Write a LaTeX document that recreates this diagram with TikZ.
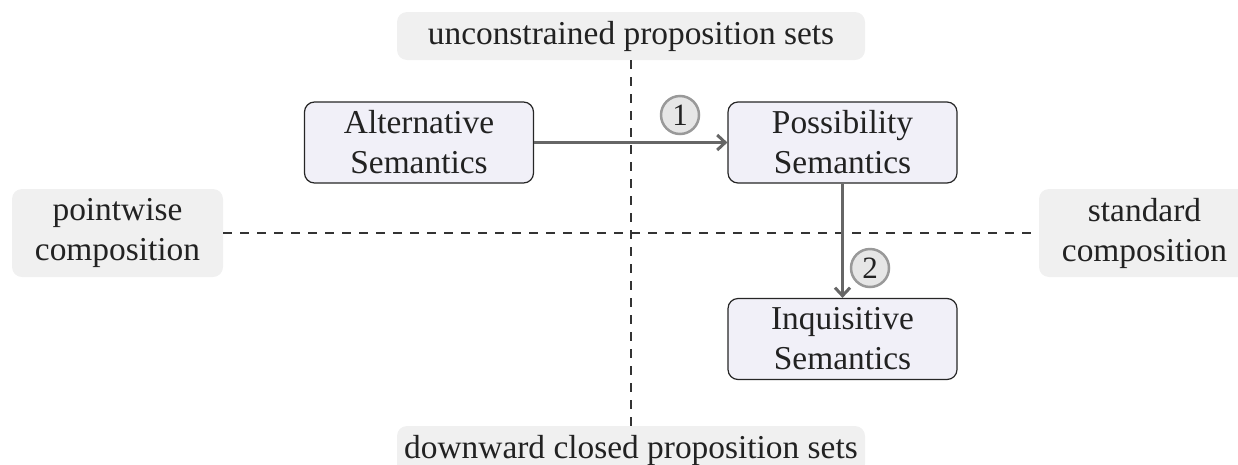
\documentclass[tikz,border=0pt]{standalone}
\usepackage{fontspec}
\setmainfont{Liberation Serif}
\usetikzlibrary{arrows.meta}
\definecolor{nodefill}{HTML}{F1F0F8}
\definecolor{labfill}{HTML}{F0F0F0}
\definecolor{arrowgray}{HTML}{666666}
\definecolor{circfill}{HTML}{E6E6E6}
\definecolor{circdraw}{HTML}{999999}
\definecolor{textdark}{HTML}{222222}
\begin{document}
\begin{tikzpicture}[x=1pt,y=-1pt,
  font=\fontsize{33.4}{40}\selectfont, text=textdark,
  semnode/.style={draw=black!85, line width=1.2pt, fill=nodefill, rounded corners=10pt,
    minimum width=229pt, minimum height=81pt, align=center, inner sep=0pt},
  axislabel/.style={fill=labfill, rounded corners=10pt, align=center, inner sep=0pt},
  axisline/.style={dash pattern=on 9pt off 8pt, line width=1.2pt, black!80},
  steparrow/.style={arrowgray, line width=3pt, -{Straight Barb[length=8pt,width=15pt]}},
  stepnum/.style={circle, draw=circdraw, fill=circfill, line width=2.5pt,
    minimum size=38pt, inner sep=0pt, font=\fontsize{31}{36}\selectfont}
]
\useasboundingbox (0,0) rectangle (1238,464);
\clip (0,0) rectangle (1238,464);
% axis labels
\node[axislabel, minimum width=468pt, minimum height=48pt] (top) at (631,36) {unconstrained proposition sets};
\node[axislabel, minimum width=468pt, minimum height=48pt] (bot) at (631,450) {downward closed proposition sets};
\node[axislabel, minimum width=211pt, minimum height=88pt] (left) at (117.5,233) {pointwise\\composition};
\node[axislabel, minimum width=211pt, minimum height=88pt] (right) at (1144.5,233) {standard\\composition};
% axes
\draw[axisline] (top.south) -- (bot.north);
\draw[axisline] (left.east) -- (right.west);
% semantics nodes
\node[semnode] (alt) at (419,142.5) {Alternative\\Semantics};
\node[semnode] (pos) at (842.5,142.5) {Possibility\\Semantics};
\node[semnode] (inq) at (842.5,339) {Inquisitive\\Semantics};
% arrows
\draw[steparrow] (alt.east) -- (pos.west);
\draw[steparrow] (pos.south) -- (inq.north);
\node[stepnum] (s1) at (680,115) {1};
\node[stepnum] (s2) at (870,268) {2};
\end{tikzpicture}
\end{document}
